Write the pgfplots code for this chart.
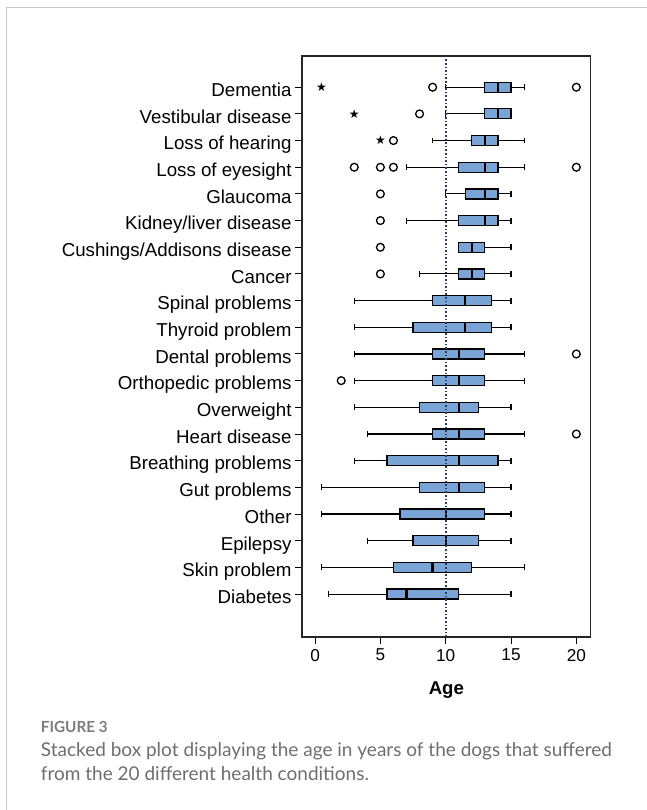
\documentclass[border=0pt]{standalone}
\usepackage{pgfplots}
\pgfplotsset{compat=1.18}
\usepgfplotslibrary{statistics}
\usetikzlibrary{plotmarks}
\usepackage{fontspec}
\setmainfont{Liberation Sans}
\newfontfamily\capfont{Lato}
\newfontfamily\symfont{DejaVu Sans}
\definecolor{boxblue}{RGB}{122,164,213}
\definecolor{refline}{RGB}{40,60,95}
\definecolor{framegray}{RGB}{200,200,200}
\definecolor{capgrayA}{RGB}{125,125,125}
\definecolor{capgrayB}{RGB}{110,110,110}
\begin{document}
\begin{tikzpicture}
\path[use as bounding box] (0,0) rectangle (646pt,-810pt);
\draw[framegray, line width=1.3pt] (6.5pt,-812pt) -- (6.5pt,-7.5pt) -- (648pt,-7.5pt);
\begin{axis}[
  at={(302pt,-56pt)}, anchor=north west,
  scale only axis, width=288.7pt, height=581pt,
  xmin=-1, xmax=21.1, ymin=-0.61, ymax=21.17,
  xtick={0,5,10,15,20},
  ytick={1,...,20},
  yticklabels={Diabetes, Skin problem, Epilepsy, Other, Gut problems, Breathing problems, Heart disease, Overweight, Orthopedic problems, Dental problems, Thyroid problem, Spinal problems, Cancer, Cushings/Addisons disease, Kidney/liver disease, Glaucoma, Loss of eyesight, Loss of hearing, Vestibular disease, Dementia},
  tick align=outside, major tick length=7pt,
  xtick pos=bottom, ytick pos=left,
  tick style={black, line width=1pt},
  axis line style={line width=1.3pt, black!85},
  /pgf/number format/assume math mode=true,
  xticklabel style={font=\fontsize{17.2}{18}\selectfont, yshift=-1.5pt},
  yticklabel style={font=\fontsize{18.7}{20}\selectfont, anchor=base east, inner sep=0pt, xshift=-3.3pt, yshift=-9.3pt},
  xlabel={Age},
  every axis x label/.style={at={(axis description cs:0.5,0)}, anchor=base, yshift=-57pt, font=\bfseries\fontsize{18.6}{20}\selectfont},
  boxplot/draw direction=x,
  boxplot/box extend=0.375,
  boxplot/whisker extend=0.22,
  boxplot/every box/.style={draw=black, line width=1.2pt, fill=boxblue},
  boxplot/every median/.style={draw=black, line width=2.3pt},
  boxplot/every whisker/.style={draw=black, line width=1.1pt},
]
% Dementia
\addplot[boxplot prepared={draw position=20, lower whisker=10, lower quartile=13, median=14, upper quartile=15, upper whisker=16}] coordinates {};
% Vestibular disease
\addplot[boxplot prepared={draw position=19, lower whisker=10, lower quartile=13, median=14, upper quartile=15, upper whisker=15}] coordinates {};
% Loss of hearing
\addplot[boxplot prepared={draw position=18, lower whisker=9, lower quartile=12, median=13, upper quartile=14, upper whisker=16}] coordinates {};
% Loss of eyesight
\addplot[boxplot prepared={draw position=17, lower whisker=7, lower quartile=11, median=13, upper quartile=14, upper whisker=16}] coordinates {};
% Glaucoma
\addplot[boxplot prepared={draw position=16, lower whisker=10, lower quartile=11.5, median=13, upper quartile=14, upper whisker=15}] coordinates {};
% Kidney/liver disease
\addplot[boxplot prepared={draw position=15, lower whisker=7, lower quartile=11, median=13, upper quartile=14, upper whisker=15}] coordinates {};
% Cushings/Addisons disease
\addplot[boxplot prepared={draw position=14, lower whisker=11, lower quartile=11, median=12, upper quartile=13, upper whisker=15}] coordinates {};
% Cancer
\addplot[boxplot prepared={draw position=13, lower whisker=8, lower quartile=11, median=12, upper quartile=13, upper whisker=15}] coordinates {};
% Spinal problems
\addplot[boxplot prepared={draw position=12, lower whisker=3, lower quartile=9, median=11.5, upper quartile=13.5, upper whisker=15}] coordinates {};
% Thyroid problem
\addplot[boxplot prepared={draw position=11, lower whisker=3, lower quartile=7.5, median=11.5, upper quartile=13.5, upper whisker=15}] coordinates {};
% Dental problems
\addplot[boxplot prepared={draw position=10, lower whisker=3, lower quartile=9, median=11, upper quartile=13, upper whisker=16}] coordinates {};
% Orthopedic problems
\addplot[boxplot prepared={draw position=9, lower whisker=3, lower quartile=9, median=11, upper quartile=13, upper whisker=16}] coordinates {};
% Overweight
\addplot[boxplot prepared={draw position=8, lower whisker=3, lower quartile=8, median=11, upper quartile=12.5, upper whisker=15}] coordinates {};
% Heart disease
\addplot[boxplot prepared={draw position=7, lower whisker=4, lower quartile=9, median=11, upper quartile=13, upper whisker=16}] coordinates {};
% Breathing problems
\addplot[boxplot prepared={draw position=6, lower whisker=3, lower quartile=5.5, median=11, upper quartile=14, upper whisker=15}] coordinates {};
% Gut problems
\addplot[boxplot prepared={draw position=5, lower whisker=0.5, lower quartile=8, median=11, upper quartile=13, upper whisker=15}] coordinates {};
% Other
\addplot[boxplot prepared={draw position=4, lower whisker=0.5, lower quartile=6.5, median=10, upper quartile=13, upper whisker=15}] coordinates {};
% Epilepsy
\addplot[boxplot prepared={draw position=3, lower whisker=4, lower quartile=7.5, median=10, upper quartile=12.5, upper whisker=15}] coordinates {};
% Skin problem
\addplot[boxplot prepared={draw position=2, lower whisker=0.5, lower quartile=6, median=9, upper quartile=12, upper whisker=16}] coordinates {};
% Diabetes
\addplot[boxplot prepared={draw position=1, lower whisker=1, lower quartile=5.5, median=7, upper quartile=11, upper whisker=15}] coordinates {};
% outliers (circles)
\addplot[only marks, mark=o, mark size=3.9pt, mark options={line width=1.3pt, draw=black}] coordinates {
 (9,20) (20,20) (8,19) (6,18) (3,17) (5,17) (6,17) (20,17) (5,16) (5,15) (5,14) (5,13) (20,10) (2,9) (20,7)};
% extreme values (stars)
\addplot[only marks, mark=text, text mark={\symfont\fontsize{12}{12}\selectfont ★}, text mark as node=true, mark options={inner sep=0pt, anchor=center}] coordinates {
 (0.5,20) (3,19) (5,18)};
% reference line
\addplot[refline, line width=1.6pt, dash pattern=on 1.6pt off 2pt] coordinates {(10,-0.61) (10,21.17)};
\end{axis}
\node[anchor=base west, inner sep=0pt, text=capgrayA, font=\capfont\bfseries\fontsize{15.3}{16}\selectfont] at (40.7pt,-732.7pt) {FIGURE 3};
\node[anchor=base west, inner sep=0pt, text=capgrayB, font=\capfont\fontsize{19}{20}\selectfont] at (40.7pt,-756.7pt) {Stacked box plot displaying the age in years of the dogs that suffered};
\node[anchor=base west, inner sep=0pt, text=capgrayB, font=\capfont\fontsize{19}{20}\selectfont] at (40.7pt,-780pt) {from the 20 different health conditions.};
\end{tikzpicture}
\end{document}
